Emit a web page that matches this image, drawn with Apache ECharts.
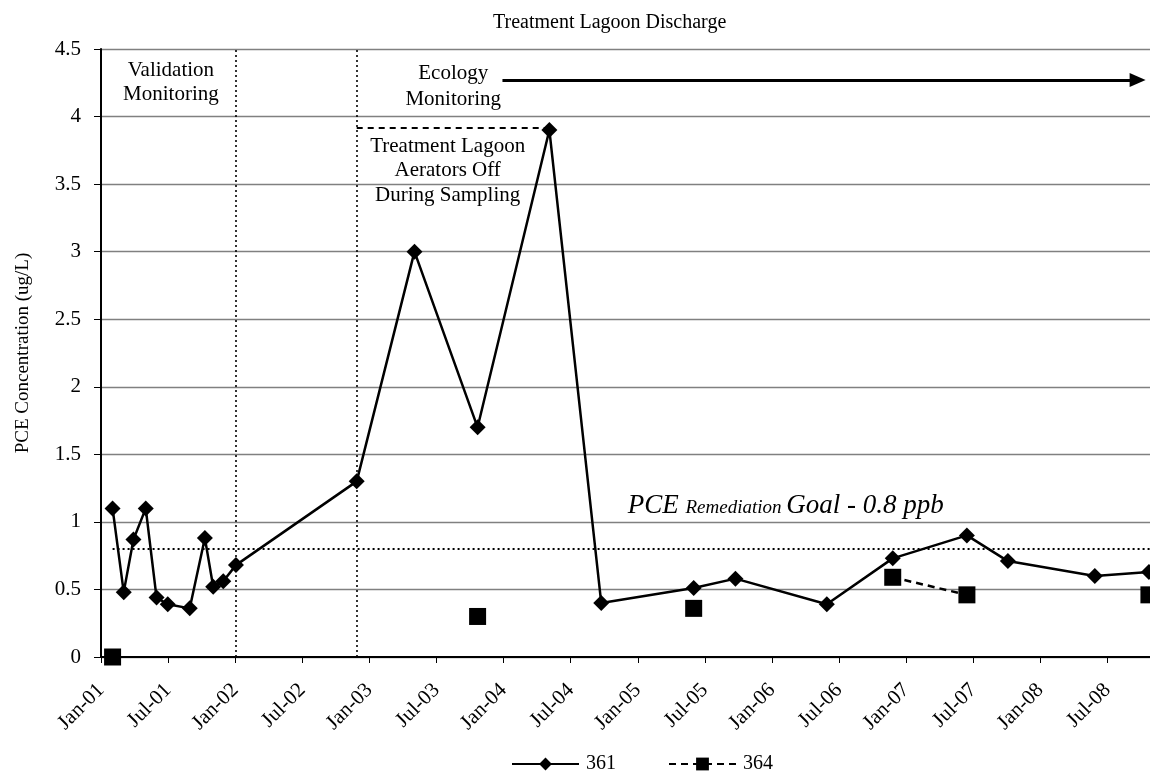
<!DOCTYPE html>
<html>
<head>
<meta charset="utf-8">
<title>Treatment Lagoon Discharge</title>
<script src="https://cdn.jsdelivr.net/npm/echarts@6/dist/echarts.min.js"></script>
<style>
  html, body { margin: 0; padding: 0; background: #fff; }
  #chart { width: 1150px; height: 771px; }
</style>
</head>
<body>
<div id="chart"></div>
<script>
// Well 361 samples (PCE, ug/L)
const sampleDates361 = ['2001-02-02', '2001-03-02', '2001-03-29', '2001-05-01', '2001-05-31', '2001-06-30',
  '2001-08-30', '2001-10-10', '2001-11-02', '2001-11-29', '2002-01-03', '2002-11-27', '2003-05-02',
  '2003-10-22', '2004-05-04', '2004-09-23', '2005-06-01', '2005-09-23', '2006-05-29', '2006-11-25',
  '2007-06-14', '2007-10-04', '2008-05-28', '2008-10-23'];
const pce361 = [1.1, 0.48, 0.87, 1.1, 0.44, 0.39, 0.36, 0.88, 0.52, 0.56, 0.68, 1.3, 3.0,
  1.7, 3.9, 0.4, 0.51, 0.58, 0.39, 0.73, 0.9, 0.71, 0.6, 0.63];

// Well 364 samples; null = not sampled in that round
const sampleDates364 = ['2001-02-02', '2002-01-03', '2003-10-22', '2004-09-23', '2005-06-01', '2005-09-23',
  '2006-11-25', '2007-06-14', '2007-10-04', '2008-10-23'];
const pce364 = [0, null, 0.30, null, 0.36, null, 0.59, 0.46, null, 0.46];

// Axis ticks: every six months starting Jan-01
const xTickLabels = ['Jan-01', 'Jul-01', 'Jan-02', 'Jul-02', 'Jan-03', 'Jul-03', 'Jan-04', 'Jul-04',
  'Jan-05', 'Jul-05', 'Jan-06', 'Jul-06', 'Jan-07', 'Jul-07', 'Jan-08', 'Jul-08'];
const axisStartDate = '2001-01-01';
const axisEndDate = '2008-10-26';
const yMin = 0, yMax = 4.5, yStep = 0.5;

// Monitoring phase boundaries and remediation goal
const phaseBreakDates = ['2002-01-03', '2002-11-27'];
const goalValue = 0.8;

const FONT = '"Liberation Serif", "Times New Roman", serif';

// Dates are placed on a month scale (months since Jan 2001)
function toMonths(s) {
  const [y, m, d] = s.split('-').map(Number);
  const dim = new Date(y, m, 0).getDate();
  return (y - 2001) * 12 + (m - 1) + (d - 1) / dim;
}

const xMin = toMonths(axisStartDate);
const xMax = toMonths(axisEndDate);
const data361 = sampleDates361.map((d, i) => [toMonths(d), pce361[i]]);
const data364 = sampleDates364.map((d, i) => [toMonths(d), pce364[i] === null ? '-' : pce364[i]]);

const peakIdx = pce361.indexOf(Math.max(...pce361));
const peakX = toMonths(sampleDates361[peakIdx]);
const peakY = pce361[peakIdx];
const breakX = phaseBreakDates.map(toMonths);
const firstX = toMonths(sampleDates361[0]);

const chart = echarts.init(document.getElementById('chart'), null, { renderer: 'canvas' });

const option = {
  animation: false,
  backgroundColor: '#fff',
  textStyle: { fontFamily: FONT, color: '#000' },
  title: {
    text: 'Treatment Lagoon Discharge',
    left: 488,
    top: 8,
    textStyle: { fontFamily: FONT, fontSize: 20, fontWeight: 'normal', color: '#000' }
  },
  grid: { left: 101, right: 0, top: 49, bottom: 114, containLabel: false },
  legend: {
    left: 506,
    top: 749,
    itemWidth: 67,
    itemHeight: 16,
    itemGap: 52,
    textStyle: { fontFamily: FONT, fontSize: 20, color: '#000', padding: [0, 0, 0, 2] },
    data: ['361', '364']
  },
  xAxis: {
    type: 'value',
    min: xMin,
    max: xMax,
    interval: 6,
    axisLine: { lineStyle: { color: '#000', width: 2 } },
    axisTick: { show: true, length: 6, lineStyle: { color: '#000', width: 1 } },
    splitLine: { show: false },
    axisLabel: {
      rotate: 45,
      margin: 30,
      showMaxLabel: false,
      fontFamily: FONT,
      fontSize: 21,
      color: '#000',
      formatter: v => {
        const i = Math.round(v / 6);
        return Math.abs(v - i * 6) < 1e-6 && xTickLabels[i] ? xTickLabels[i] : '';
      }
    }
  },
  yAxis: {
    type: 'value',
    min: yMin,
    max: yMax,
    interval: yStep,
    name: 'PCE Concentration (ug/L)',
    nameLocation: 'middle',
    nameGap: 68,
    nameTextStyle: { fontFamily: FONT, fontSize: 19, color: '#000' },
    axisLine: { show: true, lineStyle: { color: '#000', width: 2 } },
    axisTick: { show: true, length: 7, lineStyle: { color: '#000', width: 1 } },
    axisLabel: { margin: 20, fontFamily: FONT, fontSize: 21, color: '#000' },
    splitLine: { show: true, lineStyle: { color: '#808080', width: 1.3 } }
  },
  series: [
    {
      name: '361',
      type: 'line',
      data: data361,
      symbol: 'diamond',
      symbolSize: 16,
      itemStyle: { color: '#000' },
      lineStyle: { color: '#000', width: 2.5 },
      z: 5,
      markLine: {
        silent: true,
        symbol: 'none',
        label: { show: false },
        data: [
          // phase boundaries
          { xAxis: breakX[0], lineStyle: { type: [2, 3], color: '#000', width: 1.6 } },
          { xAxis: breakX[1], lineStyle: { type: [2, 3], color: '#000', width: 1.6 } },
          // remediation goal
          [
            { coord: [firstX, goalValue], lineStyle: { type: [2, 3], color: '#000', width: 1.8 } },
            { coord: [xMax, goalValue] }
          ],
          // aerators-off bracket to the peak sample
          [
            { coord: [breakX[1], peakY + 0.015], lineStyle: { type: [6, 5], color: '#000', width: 1.8 } },
            { coord: [peakX, peakY + 0.015] }
          ]
        ]
      }
    },
    {
      name: '364',
      type: 'line',
      data: data364,
      connectNulls: false,
      symbol: 'rect',
      symbolSize: 17,
      itemStyle: { color: '#000' },
      lineStyle: { color: '#000', width: 2.5, type: [7, 5] },
      z: 6
    },
    {
      // ecology monitoring arrow
      name: 'ecologyArrow',
      type: 'line',
      data: [],
      markLine: {
        silent: true,
        symbol: ['none', 'triangle'],
        symbolSize: [14, 16],
        label: { show: false },
        lineStyle: { color: '#000', width: 2.8, type: 'solid' },
        data: [[{ coord: [35.9, 4.27] }, { coord: [92.7, 4.27] }]]
      }
    }
  ]
};

chart.setOption(option);

// Text annotations placed in data coordinates
function px(x, y) { return chart.convertToPixel({ gridIndex: 0 }, [x, y]); }

const notes = [
  { at: [6.25, 4.25], text: 'Validation\nMonitoring', lh: 24 },
  { at: [31.5, 4.225], text: 'Ecology\nMonitoring', lh: 26 },
  { at: [31.0, 3.6], text: 'Treatment Lagoon\nAerators Off\nDuring Sampling', lh: 24.5 }
];

const graphics = notes.map(n => {
  const p = px(n.at[0], n.at[1]);
  return {
    type: 'text',
    x: p[0],
    y: p[1],
    z: 10,
    style: {
      text: n.text,
      font: '21px ' + FONT,
      fill: '#000',
      align: 'center',
      verticalAlign: 'middle',
      lineHeight: n.lh
    }
  };
});

const gp = px(47.1, 1.12);
graphics.push({
  type: 'text',
  x: gp[0],
  y: gp[1],
  z: 10,
  style: {
    text: '{big|PCE }{small|Remediation }{big|Goal - 0.8 ppb}',
    align: 'left',
    verticalAlign: 'middle',
    rich: {
      big: { fontFamily: FONT, fontStyle: 'italic', fontSize: 27, fill: '#000', color: '#000', verticalAlign: 'bottom' },
      small: { fontFamily: FONT, fontStyle: 'italic', fontSize: 19, fill: '#000', color: '#000', verticalAlign: 'bottom', padding: [0, 0, 2, 0] }
    }
  }
});

chart.setOption({ graphic: graphics });
</script>
</body>
</html>
